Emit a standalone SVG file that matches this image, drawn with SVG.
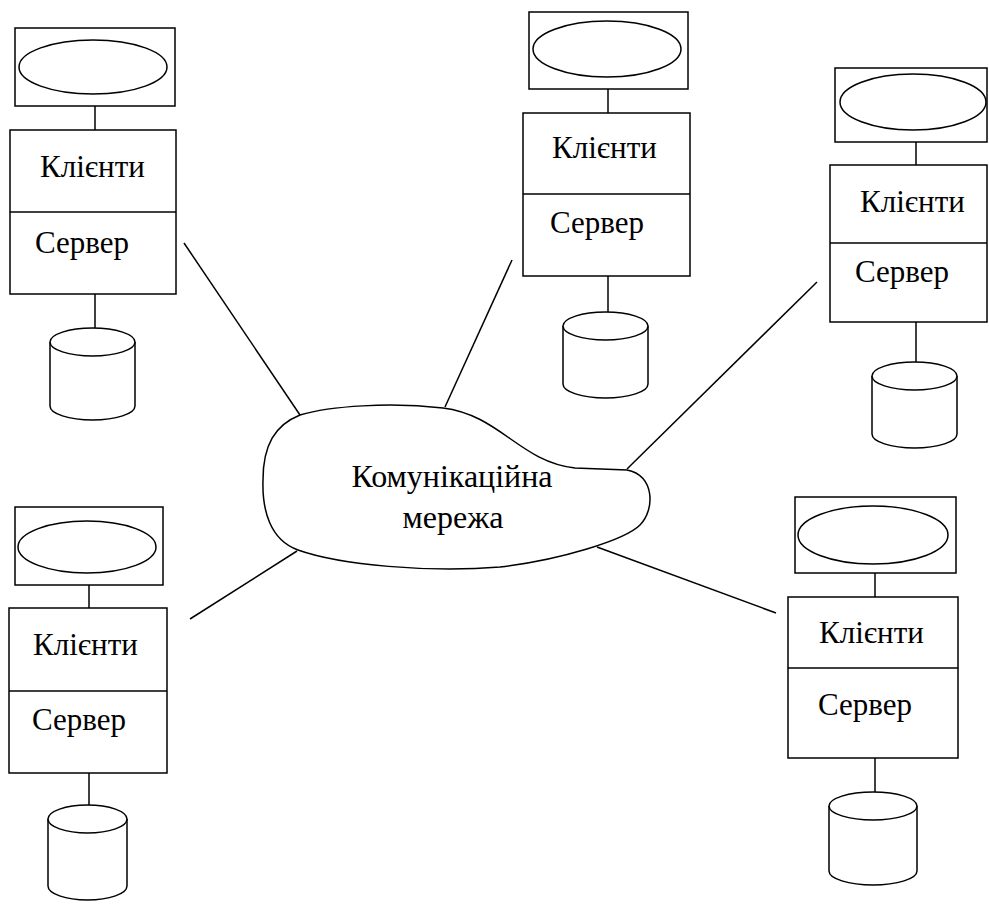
<svg xmlns="http://www.w3.org/2000/svg" width="989" height="904" viewBox="0 0 989 904">
<style>
  .s { fill: #fff; stroke: #000; stroke-width: 1.5; }
  .l { fill: none; stroke: #000; stroke-width: 1.5; }
  text { font-family: "Liberation Serif", "DejaVu Serif", serif; fill: #000; }
  .t { font-size: 31px; }
  .c { font-size: 32px; text-anchor: middle; }
</style>
<rect width="989" height="904" fill="#fff"/>
<g id="connectors">
  <line class="l" x1="184" y1="243" x2="300" y2="415"/>
  <line class="l" x1="512" y1="260" x2="445" y2="407"/>
  <line class="l" x1="817" y1="282" x2="627" y2="469"/>
  <line class="l" x1="190" y1="619" x2="297" y2="551"/>
  <line class="l" x1="597" y1="547" x2="776" y2="613"/>
</g>
<g id="network">
  <path class="s" d="M300,415 C330,406 390,402 443,408 C500,415 520,462 575,468 L627,470 C655,475 655,510 640,525 C625,540 560,560 500,567 C430,573 340,565 298,550 C270,540 262,510 263,480 C263,445 275,425 300,415 Z"/>
  <text class="c" x="452" y="487">Комунікаційна</text>
  <text class="c" x="453" y="528">мережа</text>
</g>
<g id="node1">
  <rect class="s" x="15" y="28" width="160" height="78"/>
  <ellipse class="s" cx="93" cy="67" rx="74" ry="27"/>
  <line class="l" x1="95" y1="106" x2="95" y2="130"/>
  <rect class="s" x="10" y="130" width="166" height="164"/>
  <line class="l" x1="10" y1="212" x2="176" y2="212"/>
  <text class="t" x="40" y="177">Клієнти</text>
  <text class="t" x="35" y="253">Сервер</text>
  <line class="l" x1="95" y1="294" x2="95" y2="328"/>
  <path class="s" d="M50,342 L50,406 A42.5,14 0 0 0 135,406 L135,342"/>
  <ellipse class="s" cx="92.5" cy="342" rx="42.5" ry="14"/>
</g>
<g id="node2">
  <rect class="s" x="529" y="12" width="159" height="77"/>
  <ellipse class="s" cx="607" cy="49" rx="74" ry="28"/>
  <line class="l" x1="608" y1="89" x2="608" y2="113"/>
  <rect class="s" x="523" y="113" width="167" height="163"/>
  <line class="l" x1="523" y1="194" x2="690" y2="194"/>
  <text class="t" x="552" y="158">Клієнти</text>
  <text class="t" x="550" y="233">Сервер</text>
  <line class="l" x1="608" y1="276" x2="608" y2="312"/>
  <path class="s" d="M563,326 L563,384 A42.5,14 0 0 0 648,384 L648,326"/>
  <ellipse class="s" cx="605.5" cy="326" rx="42.5" ry="14"/>
</g>
<g id="node3">
  <rect class="s" x="835" y="68" width="152" height="74"/>
  <ellipse class="s" cx="913" cy="102" rx="73" ry="28"/>
  <line class="l" x1="916" y1="142" x2="916" y2="165"/>
  <rect class="s" x="830" y="165" width="157" height="157"/>
  <line class="l" x1="830" y1="243" x2="987" y2="243"/>
  <text class="t" x="860" y="212">Клієнти</text>
  <text class="t" x="855" y="282">Сервер</text>
  <line class="l" x1="916" y1="322" x2="916" y2="362"/>
  <path class="s" d="M872,376 L872,434 A42.5,14 0 0 0 957,434 L957,376"/>
  <ellipse class="s" cx="914.5" cy="376" rx="42.5" ry="14"/>
</g>
<g id="node4">
  <rect class="s" x="15" y="507" width="148" height="78"/>
  <ellipse class="s" cx="87" cy="547" rx="69" ry="26"/>
  <line class="l" x1="89" y1="585" x2="89" y2="608"/>
  <rect class="s" x="9" y="608" width="158" height="165"/>
  <line class="l" x1="9" y1="691" x2="167" y2="691"/>
  <text class="t" x="33" y="655">Клієнти</text>
  <text class="t" x="32" y="730">Сервер</text>
  <line class="l" x1="89" y1="773" x2="89" y2="805"/>
  <path class="s" d="M48,819 L48,886 A39.5,14 0 0 0 127,886 L127,819"/>
  <ellipse class="s" cx="87.5" cy="819" rx="39.5" ry="14"/>
</g>
<g id="node5">
  <rect class="s" x="795" y="497" width="161" height="76"/>
  <ellipse class="s" cx="873" cy="535" rx="75" ry="29"/>
  <line class="l" x1="875" y1="573" x2="875" y2="597"/>
  <rect class="s" x="788" y="597" width="170" height="161"/>
  <line class="l" x1="788" y1="668" x2="958" y2="668"/>
  <text class="t" x="819" y="643">Клієнти</text>
  <text class="t" x="818" y="715">Сервер</text>
  <line class="l" x1="875" y1="758" x2="875" y2="792"/>
  <path class="s" d="M829,806 L829,871 A44,14 0 0 0 917,871 L917,806"/>
  <ellipse class="s" cx="873" cy="806" rx="44" ry="14"/>
</g>
</svg>
